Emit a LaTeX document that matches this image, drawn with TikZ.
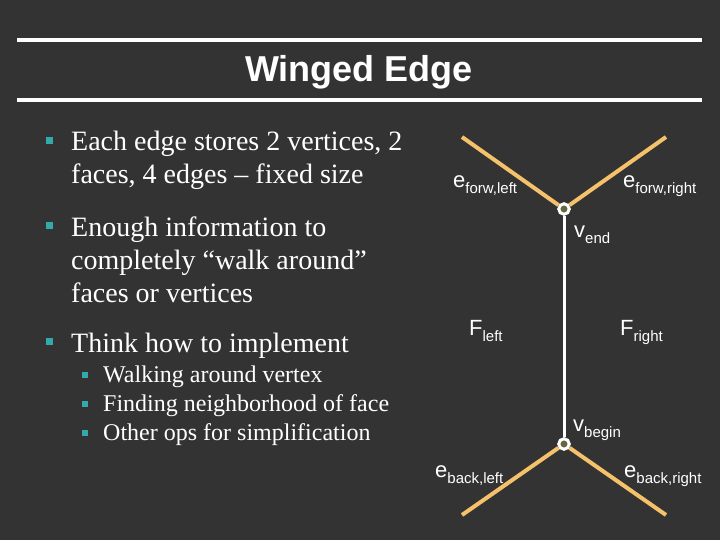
\documentclass[tikz,border=0pt]{standalone}
\usepackage{fontspec}
\setmainfont{Liberation Serif}
\setsansfont{Liberation Sans}
\definecolor{slidebg}{HTML}{333333}
\definecolor{bulletteal}{HTML}{33AAAA}
\definecolor{wingorange}{HTML}{F5C26B}
\definecolor{vertexfill}{HTML}{66663F}
\newcommand{\wlabel}[2]{#1\raisebox{-6pt}{\fontsize{15}{15}\selectfont #2}}
\tikzset{
	item/.style={anchor=base west,align=left,text=white,inner sep=0pt,font=\fontsize{28}{33}\selectfont},
	subitem/.style={item,font=\fontsize{24}{29}\selectfont},
	bullet/.style={fill=bulletteal,minimum size=7pt,inner sep=0pt},
	subbullet/.style={bullet,minimum size=6pt},
	wing/.style={wingorange,line width=4pt},
	vertex/.style={circle,draw=white,fill=vertexfill,line width=3pt,minimum size=10.5pt,inner sep=0pt},
	lbl/.style={anchor=base west,text=white,inner sep=0pt,font=\sffamily\fontsize{22}{22}\selectfont},
}
\begin{document}
\begin{tikzpicture}[x=1pt,y=-1pt]
	\fill[slidebg] (0,0) rectangle (720,540);
	\useasboundingbox (0,0) rectangle (720,540);
	% title
	\draw[white,line width=4pt] (17,40) -- (702,40);
	\draw[white,line width=4pt] (17,100) -- (702,100);
	\node[anchor=base,text=white,font=\sffamily\bfseries\fontsize{36}{36}\selectfont] (title) at (359,82) {Winged Edge};
	% bullets (base = last line)
	\node[bullet] (b1) at (49.5,141) {};
	\node[item] (t1) at (71,184) {Each edge stores 2 vertices, 2\\faces, 4 edges -- fixed size};
	\node[bullet] (b2) at (49.5,226) {};
	\node[item] (t2) at (71,302) {Enough information to\\completely ``walk around''\\faces or vertices};
	\node[bullet] (b3) at (49.5,341.5) {};
	\node[item] (t3) at (71,352) {Think how to implement};
	\node[subbullet] (s1) at (85,375) {};
	\node[subitem] (u1) at (103,382) {Walking around vertex};
	\node[subbullet] (s2) at (85,404) {};
	\node[subitem] (u2) at (103,411) {Finding neighborhood of face};
	\node[subbullet] (s3) at (85,433) {};
	\node[subitem] (u3) at (103,440) {Other ops for simplification};
	% winged edge
	\node[vertex] (vend) at (564,209) {};
	\node[vertex] (vbegin) at (564,444) {};
	\coordinate (fl) at (462,137);
	\coordinate (fr) at (666,137);
	\coordinate (bl) at (462,515);
	\coordinate (br) at (666,515);
	\draw[white,line width=3pt] (vend) -- (vbegin);
	\draw[wing] (fl) -- (vend);
	\draw[wing] (fr) -- (vend);
	\draw[wing] (bl) -- (vbegin);
	\draw[wing] (br) -- (vbegin);
	\node[lbl] (efl) at (453,188) {\wlabel{e}{forw,left}};
	\node[lbl] (efr) at (623,188) {\wlabel{e}{forw,right}};
	\node[lbl] (lvend) at (574,237) {\wlabel{v}{end}};
	\node[lbl] (fleft) at (469,335) {\wlabel{F}{left}};
	\node[lbl] (fright) at (620,335) {\wlabel{F}{right}};
	\node[lbl] (lvbegin) at (573,431) {\wlabel{v}{begin}};
	\node[lbl] (ebl) at (435,477) {\wlabel{e}{back,left}};
	\node[lbl] (ebr) at (624,477) {\wlabel{e}{back,right}};
\end{tikzpicture}
\end{document}
